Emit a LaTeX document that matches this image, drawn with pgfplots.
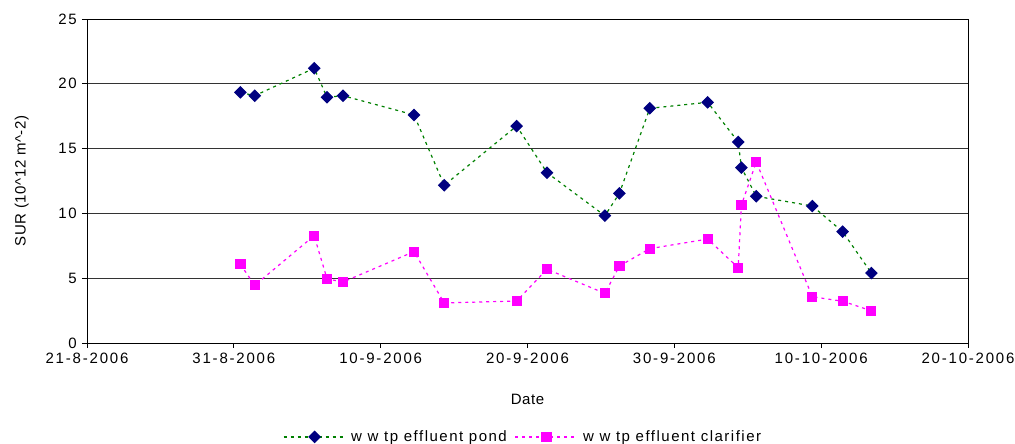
\documentclass[border=0pt]{standalone}
\usepackage{fontspec}
\setmainfont{Liberation Sans}
\newfontfamily\tickfont[LetterSpace=12]{Liberation Sans}
\newfontfamily\labfont[LetterSpace=4]{Liberation Sans}
\newfontfamily\legfont[LetterSpace=10]{Liberation Sans}
\usepackage{pgfplots}
\pgfplotsset{compat=1.18}
\definecolor{pondgreen}{RGB}{0,128,0}
\definecolor{navyblue}{RGB}{0,0,128}
\definecolor{mag}{RGB}{255,0,255}
\begin{document}
\fontsize{15}{18}\selectfont
\begin{tikzpicture}
\useasboundingbox (-87pt,-101pt) rectangle (928pt,343pt);
\begin{axis}[
  name=ax, at={(0pt,0pt)}, anchor=south west,
  scale only axis, width=881pt, height=324pt,
  xmin=0, xmax=60, ymin=0, ymax=25,
  xtick={0,10,...,60},
  xticklabels={21-8-2006,31-8-2006,10-9-2006,20-9-2006,30-9-2006,10-10-2006,20-10-2006},
  ytick={0,5,...,25},
  ymajorgrids,
  grid style={black!80, line width=0.6pt},
  axis line style={black, line width=0.8pt},
  tick align=outside, tick pos=left, major tick length=5pt,
  tick style={black, line width=0.8pt},
  /pgf/number format/assume math mode=true,
  ticklabel style={font=\tickfont\fontsize{15}{18}\selectfont},
  xlabel={Date},
  ylabel={SUR (10\textasciicircum 12 m\textasciicircum -2)},
  label style={font=\labfont\fontsize{15}{18}\selectfont},
  xlabel style={at={(axis description cs:0.5,-0.175)}, anchor=center},
  ylabel style={at={(axis description cs:-0.074,0.5)}, anchor=center},
  legend columns=2,
  legend style={at={(0.495,-0.29)}, anchor=center, draw=none, font=\legfont\fontsize{15}{18}\selectfont,
    /tikz/every odd column/.append style={column sep=3pt},
    /tikz/every even column/.append style={column sep=6pt}},
  legend image code/.code={\draw[mark repeat=2,mark phase=2,#1] plot coordinates {(0pt,0pt)(31pt,0pt)(62pt,0pt)};},
]
\addplot[pondgreen, line width=1.2pt, dash pattern=on 3pt off 4pt,
  mark=square*, mark size=3.9pt, mark options={solid, rotate=45, fill=navyblue, draw=navyblue}]
  coordinates {
(10.45,19.34) (11.42,19.08) (15.47,21.2) (16.35,18.96) (17.44,19.08) (22.27,17.6) (24.33,12.17)
(29.26,16.74) (31.33,13.14) (35.27,9.82) (36.26,11.55) (38.33,18.11) (42.27,18.57) (44.35,15.51)
(44.57,13.53) (45.58,11.32) (49.4,10.57) (51.46,8.59) (53.42,5.40)
};
\addlegendentry{w w tp effluent pond}
\addplot[mag, line width=1.2pt, dash pattern=on 3pt off 4pt,
  mark=square*, mark size=4.5pt, mark options={solid, fill=mag, draw=mag}]
  coordinates {
(10.45,6.07) (11.42,4.45) (15.47,8.28) (16.35,4.94) (17.44,4.71) (22.27,7.05) (24.33,3.09)
(29.26,3.24) (31.33,5.69) (35.27,3.83) (36.26,5.94) (38.33,7.28) (42.27,8.02) (44.35,5.81)
(44.57,10.65) (45.58,13.97) (49.4,3.57) (51.46,3.22) (53.42,2.49)
};
\addlegendentry{w w tp effluent clarifier}
\end{axis}
\end{tikzpicture}
\end{document}
